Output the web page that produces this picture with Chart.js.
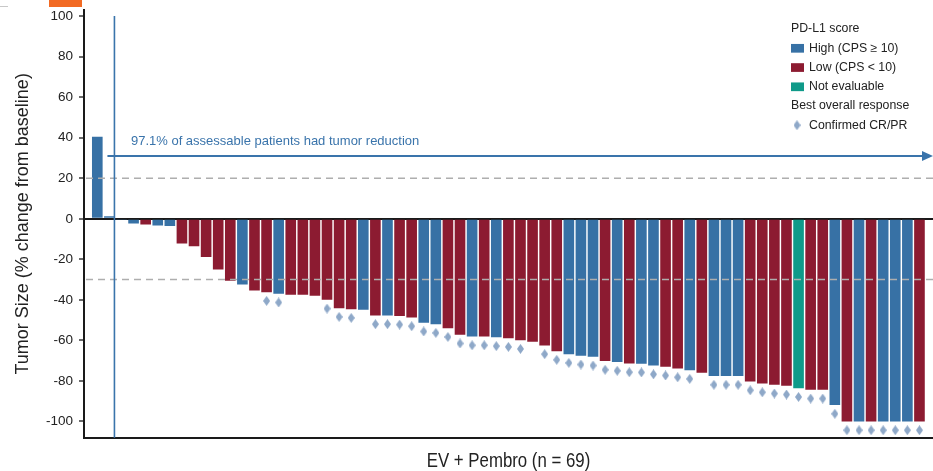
<!DOCTYPE html>
<html>
<head>
<meta charset="utf-8">
<script src="https://cdn.jsdelivr.net/npm/chart.js@4.4.1/dist/chart.umd.min.js"></script>
<style>
  html, body { margin: 0; padding: 0; background: #fff; }
  #wrap { width: 933px; height: 471px; position: relative; }
</style>
</head>
<body>
<div id="wrap"><canvas id="waterfall"></canvas></div>
<script>
// Best percent change from baseline in tumor size, one value per patient, sorted
const tumorChange = [
  40.5, 1.2, -0.6, -2.3, -2.8, -3.3, -3.6, -12.2, -13.5, -18.8,
  -25.0, -30.6, -32.4, -35.4, -36.2, -37.0, -37.5, -37.5, -38.0, -40.0,
  -44.1, -44.6, -44.9, -47.7, -47.7, -47.9, -48.7, -51.3, -52.0, -54.0,
  -57.2, -58.1, -58.1, -58.5, -58.9, -59.9, -60.7, -62.5, -65.3, -66.8,
  -67.6, -68.1, -70.2, -70.7, -71.4, -71.5, -72.4, -73.0, -73.9, -74.7,
  -76.0, -77.6, -77.6, -77.6, -80.3, -81.3, -81.9, -82.4, -83.6, -84.4,
  -84.4, -91.9, -100, -100, -100, -100, -100, -100, -100
];

// PD-L1 group per patient: H = high (CPS >= 10), L = low (CPS < 10), N = not evaluable
const pdl1Group = [
  'H','H','H','H','L','H','H','L','L','L',
  'L','L','H','L','L','H','L','L','L','L',
  'L','L','H','L','H','L','L','H','H','L',
  'L','H','L','H','L','L','L','L','L','H',
  'H','H','L','H','L','H','H','L','L','H',
  'L','H','H','H','L','L','L','L','N','L',
  'L','H','L','H','L','H','H','H','L'
];

// 1 = confirmed complete or partial response
const confirmedResponse = [
  0,0,0,0,0,0,0,0,0,0,
  0,0,0,0,1,1,0,0,0,1,
  1,1,0,1,1,1,1,1,1,1,
  1,1,1,1,1,1,0,1,1,1,
  1,1,1,1,1,1,1,1,1,1,
  0,1,1,1,1,1,1,1,1,1,
  1,1,1,1,1,1,1,1,1
];

const yTickValues = [-100, -80, -60, -40, -20, 0, 20, 40, 60, 80, 100];
const referenceLines = [20, -30];
const legendTitle = 'PD-L1 score';
const legendGroups = ['H', 'L', 'N'];
const legendGroupLabels = ['High (CPS \u2265 10)', 'Low (CPS < 10)', 'Not evaluable'];
const responseTitle = 'Best overall response';
const responseLabel = 'Confirmed CR/PR';
const reductionNote = '97.1% of assessable patients had tumor reduction';
const xTitle = 'EV + Pembro (n = 69)';
const yTitle = 'Tumor Size (% change from baseline)';

// ---- styling ----
const groupColors = { H: '#3771a5', L: '#8c1b31', N: '#0f9a89' };
const markerColor = '#8ea8c8';
const noteColor = '#3a74ab';
const inkColor = '#222222';
const sansFamily = '"Liberation Sans", Arial, sans-serif';
const markerGap = 4.3;      // diamond sits this many % below the bar end
const arrowLevel = 31;      // height of the reduction arrow, in % units

function diamondImage(w, h, color) {
  const c = document.createElement('canvas');
  c.width = w; c.height = h;
  const g = c.getContext('2d');
  g.fillStyle = color;
  g.beginPath();
  g.moveTo(w / 2, 0); g.lineTo(w, h / 2); g.lineTo(w / 2, h); g.lineTo(0, h / 2);
  g.closePath(); g.fill();
  return c;
}
const diamond = diamondImage(7, 10, markerColor);

const barPoints = tumorChange.map((v, i) => ({ x: i, y: v }));
const markerPoints = confirmedResponse
  .map((r, i) => (r ? { x: i, y: tumorChange[i] - markerGap } : null))
  .filter(Boolean);

// Dashed thresholds, growth/reduction divider, arrow, note, x title and legend
const overlay = {
  id: 'overlay',
  afterDatasetsDraw(chart) {
    const { ctx, chartArea: a, scales: { x, y } } = chart;
    ctx.save();

    ctx.strokeStyle = '#aeaeae';
    ctx.lineWidth = 1.5;
    ctx.setLineDash([7, 5]);
    referenceLines.forEach(v => {
      const py = y.getPixelForValue(v);
      ctx.beginPath(); ctx.moveTo(a.left + 2, py); ctx.lineTo(a.right, py); ctx.stroke();
    });
    ctx.setLineDash([]);

    // divider between patients with growth and with reduction
    const dx = (x.getPixelForValue(1) + x.getPixelForValue(2)) / 2 - 1;
    ctx.strokeStyle = noteColor;
    ctx.lineWidth = 1.6;
    ctx.beginPath(); ctx.moveTo(dx, y.getPixelForValue(100)); ctx.lineTo(dx, a.bottom); ctx.stroke();

    // arrow across the reduction group
    const ay = y.getPixelForValue(arrowLevel);
    ctx.lineWidth = 2;
    ctx.beginPath(); ctx.moveTo(dx - 7, ay); ctx.lineTo(a.right - 6, ay); ctx.stroke();
    ctx.fillStyle = noteColor;
    ctx.beginPath();
    ctx.moveTo(a.right, ay); ctx.lineTo(a.right - 11, ay - 5); ctx.lineTo(a.right - 11, ay + 5);
    ctx.closePath(); ctx.fill();

    ctx.font = '13px ' + sansFamily;
    ctx.textBaseline = 'middle';
    ctx.textAlign = 'left';
    ctx.fillText(reductionNote, dx + 16.5, ay - 14.5);
    ctx.restore();
  },
  afterDraw(chart) {
    const { ctx, chartArea: a } = chart;
    ctx.save();
    // header accent
    ctx.fillStyle = '#f26a23';
    ctx.fillRect(49, 0, 33, 7);
    ctx.strokeStyle = '#c8c8c8';
    ctx.lineWidth = 1;
    ctx.beginPath(); ctx.moveTo(0, 6.5); ctx.lineTo(8, 6.5); ctx.stroke();

    // x-axis title in a condensed setting
    ctx.save();
    ctx.translate((a.left + a.right) / 2, 461.5);
    ctx.scale(0.82, 1);
    ctx.font = '20.5px ' + sansFamily;
    ctx.fillStyle = inkColor;
    ctx.textAlign = 'center';
    ctx.textBaseline = 'middle';
    ctx.fillText(xTitle, 0, 0);
    ctx.restore();

    // legend
    const lx = 791, tx = 809, row = 19.25, top = 29;
    ctx.font = '12.3px ' + sansFamily;
    ctx.textBaseline = 'middle';
    ctx.textAlign = 'left';
    ctx.fillStyle = inkColor;
    ctx.fillText(legendTitle, lx, top);
    legendGroups.forEach((g, k) => {
      const cy = top + row * (k + 1);
      ctx.fillStyle = groupColors[g];
      ctx.fillRect(lx, cy - 4.3, 13, 8.7);
      ctx.fillStyle = inkColor;
      ctx.fillText(legendGroupLabels[k], tx, cy);
    });
    ctx.fillText(responseTitle, lx, top + row * 4);
    const dy = top + row * 5;
    ctx.drawImage(diamond, lx + 2.5, dy - 5);
    ctx.fillText(responseLabel, tx, dy);
    ctx.restore();
  }
};

new Chart(document.getElementById('waterfall'), {
  type: 'bar',
  data: {
    datasets: [
      {
        type: 'bar',
        data: barPoints,
        backgroundColor: pdl1Group.map(g => groupColors[g]),
        borderWidth: 0,
        barPercentage: 0.88,
        categoryPercentage: 1,
        order: 2
      },
      {
        type: 'scatter',
        data: markerPoints,
        pointStyle: diamond,
        pointRadius: 5,
        showLine: false,
        order: 1
      }
    ]
  },
  options: {
    responsive: true,
    maintainAspectRatio: false,
    animation: false,
    layout: { autoPadding: false, padding: { top: 10, left: 0, right: 0, bottom: 0 } },
    plugins: { legend: { display: false }, tooltip: { enabled: false } },
    scales: {
      x: {
        type: 'linear',
        min: -1.1,
        max: 69.12,
        offset: false,
        ticks: { display: false },
        grid: { display: false, drawTicks: false },
        border: { display: true, color: '#1a1a1a', width: 2 },
        title: { display: false, text: xTitle },
        afterFit: s => { s.height = 33.3; s.paddingLeft = 0; s.paddingRight = 0; }
      },
      y: {
        min: -108,
        max: 103,
        z: 1,
        afterBuildTicks: s => { s.ticks = yTickValues.map(v => ({ value: v })); },
        afterFit: s => { s.width = 84; s.paddingTop = 0; s.paddingBottom = 0; },
        ticks: { color: inkColor, padding: 6, font: { family: sansFamily, size: 13.5 } },
        grid: {
          drawOnChartArea: true,
          color: c => (c.tick && c.tick.value === 0 ? '#1a1a1a' : 'rgba(0,0,0,0)'),
          lineWidth: c => (c.tick && c.tick.value === 0 ? 2 : 0),
          tickColor: '#1a1a1a',
          tickLength: 5,
          tickWidth: 1.3
        },
        border: { display: true, color: '#1a1a1a', width: 2 },
        title: {
          display: true, text: yTitle, color: inkColor,
          padding: { top: 12, bottom: 0 },
          font: { family: sansFamily, size: 18 }
        }
      }
    }
  },
  plugins: [overlay]
});
</script>
</body>
</html>
